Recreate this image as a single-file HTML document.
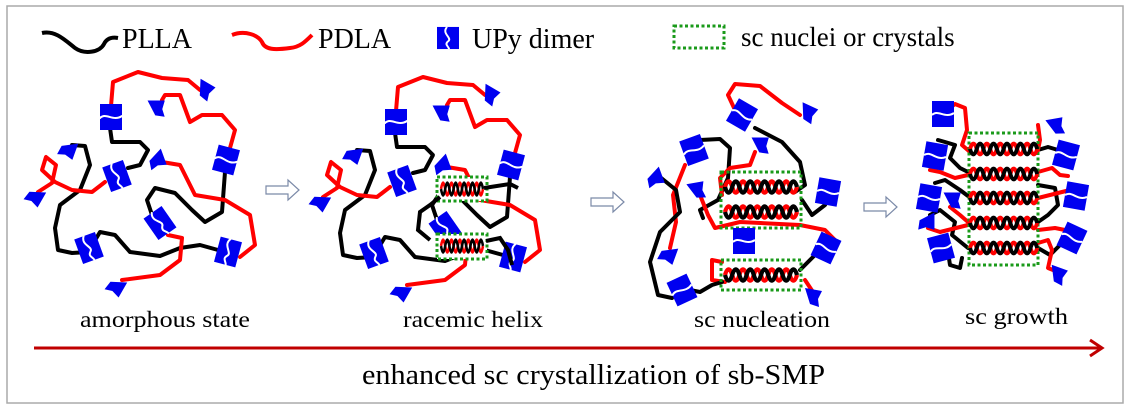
<!DOCTYPE html>
<html><head><meta charset="utf-8"><style>
html,body{margin:0;padding:0;background:#fff}
svg{display:block}
text{font-family:"Liberation Serif",serif;fill:#000}
</style></head><body>
<svg width="1129" height="410" viewBox="0 0 1129 410" xmlns="http://www.w3.org/2000/svg">
<defs>
<g id="upy"><rect x="-11" y="-13" width="22" height="26" fill="#0000f0"/><path d="M-1,-13 C-7,-5 5,0 0,4 C-4,8 1,10 1,13" stroke="#fff" stroke-width="2" fill="none"/></g>
<g id="upyh"><rect x="-11" y="-13" width="22" height="26" fill="#0000f0"/><path d="M-11,1 C-5,-5 2,5 11,-1" stroke="#fff" stroke-width="2" fill="none"/></g>
<path id="cap" d="M-8,-9 L9,-6 L5,2 L6,10 L-3,7 Z" fill="#0000f0"/>
<g id="hx" fill="none" stroke-width="3.6">
<path d="M0,0 Q3,-12 6,0 T12,0 T18,0 T24,0 T30,0 T36,0 T42,0 T48,0 T54,0 T60,0" stroke="#f00"/>
<path d="M0,0 Q3,12 6,0 T12,0 T18,0 T24,0 T30,0 T36,0 T42,0 T48,0 T54,0 T60,0" stroke="#000"/>
</g>
<g id="harrow"><path d="M0,-4 L22,-4 L22,-10 L33,0 L22,10 L22,4 L0,4 Z" fill="#fff" stroke="#7b8aa8" stroke-width="1.2"/></g>
<g id="p1" fill="none" stroke-width="4" stroke-linejoin="round" stroke-linecap="round">
<path d="M111,106 L113,82 L138,72 L162,78 L188,80 L200,90 L205,90" stroke="#f00"/>
<path d="M110,128 L112,142 L140,142 L148,150 L140,165 L128,168" stroke="#000"/>
<path d="M162,100 L165,95 L180,95 L190,122 L202,115 L222,115 L235,130 L230,148" stroke="#f00"/>
<path d="M225,172 L222,212 L205,222 L192,210 L175,193 L155,188 L147,200 L152,215 L162,222" stroke="#000"/>
<path d="M162,162 L180,165 L195,195 L225,200 L250,215 L255,245 L240,257" stroke="#f00"/>
<path d="M218,250 L200,245 L180,248 L160,256 L130,252 L115,235 L100,232 L88,252 L72,253 L58,250 L55,228 L60,205 L80,190 L90,165 L85,146 L72,145 L70,155" stroke="#000"/>
<path d="M38,192 L52,183 L56,165 L46,157 L42,170 L55,182 L72,190 L92,192 L105,182" stroke="#f00"/>
<path d="M168,235 L182,238 L180,260 L160,275 L122,280" stroke="#f00"/>
<use href="#upyh" transform="translate(111,117)"/>
<use href="#upy" transform="translate(117,176) rotate(-20)"/>
<use href="#upyh" transform="translate(226,160) rotate(15)"/>
<use href="#upy" transform="translate(160,223) rotate(-35)"/>
<use href="#upy" transform="translate(228,252) rotate(15)"/>
<use href="#upy" transform="translate(89,248) rotate(-20)"/>
<use href="#cap" transform="translate(205,90) rotate(20)"/>
<use href="#cap" transform="translate(157,108) rotate(-10)"/>
<use href="#cap" transform="translate(157,160) rotate(60)"/>
<use href="#cap" transform="translate(68,150) rotate(100)"/>
<use href="#cap" transform="translate(35,197) rotate(110)"/>
<use href="#cap" transform="translate(116,287) rotate(110)"/>
</g>
</defs>
<rect x="7" y="6" width="1116" height="397" fill="#fff" stroke="#aaa" stroke-width="1.5"/>
<!-- legend -->
<path d="M42,33 C55,30 65,40 75,48 C85,55 100,52 104,44 C107,38 112,37 118,38" fill="none" stroke="#000" stroke-width="4"/>
<text x="122" y="48" font-size="28">PLLA</text>
<path d="M232,35 C245,30 258,35 262,42 C265,50 275,50 290,48 C300,47 305,42 312,35" fill="none" stroke="#f00" stroke-width="4"/>
<text x="318" y="48" font-size="28">PDLA</text>
<use href="#upy" transform="translate(448,38) scale(1,0.85)"/>
<text x="472" y="48" font-size="28">UPy dimer</text>
<rect x="674" y="26" width="50" height="22" fill="none" stroke="#1a9a1a" stroke-width="3" stroke-dasharray="3,2.5"/>
<text x="741" y="46" font-size="27">sc nuclei or crystals</text>
<!-- panel 1 -->
<use href="#p1"/>
<use href="#harrow" transform="translate(266,190)"/>
<!-- panel 2 -->
<use href="#p1" transform="translate(285,5)"/>
<rect x="437" y="177" width="50" height="24" fill="#fff" stroke="#1a9a1a" stroke-width="3" stroke-dasharray="3,2.5"/>
<use href="#hx" transform="translate(441,189) scale(0.7,1)"/>
<rect x="437" y="234" width="50" height="25" fill="#fff" stroke="#1a9a1a" stroke-width="3" stroke-dasharray="3,2.5"/>
<use href="#hx" transform="translate(441,246) scale(0.7,1)"/>
<path d="M484,188 L510,184 L518,188" stroke="#000" stroke-width="4" fill="none"/>
<path d="M440,197 L430,205 L420,212 L418,230 L430,240" stroke="#000" stroke-width="4" fill="none"/>
<path d="M486,241 L500,238 L508,250 L512,265" stroke="#000" stroke-width="4" fill="none"/>
<use href="#harrow" transform="translate(591,202)"/>
<!-- panel 3 -->
<g fill="none" stroke-width="4" stroke-linejoin="round" stroke-linecap="round">
<path d="M735,110 L728,95 L735,84 L760,86 L782,103 L800,115" stroke="#f00"/>
<path d="M755,128 L782,142 L800,162 L805,185 L795,192" stroke="#000"/>
<path d="M700,140 L720,139 L730,148 L728,178 L718,200 L700,210 L703,218" stroke="#000"/>
<path d="M685,165 L673,195 L676,222 L670,248" stroke="#f00"/>
<path d="M660,177 L676,190 L680,212 L660,232 L650,262 L658,295 L672,298" stroke="#000"/>
<path d="M755,152 L750,165 L730,168 L720,178 L722,195" stroke="#f00"/>
<path d="M700,195 L708,215 L715,228 L740,222 L800,225 L825,230 L835,240" stroke="#f00"/>
<path d="M802,200 L812,215 L825,205" stroke="#000"/>
<path d="M805,280 L813,292" stroke="#f00"/>
<path d="M800,270 L815,255 L822,247" stroke="#000"/>
<path d="M722,262 L712,260 L712,280 L725,282" stroke="#f00"/>
<path d="M722,282 L712,285 L700,292 L690,290" stroke="#000"/>
</g>
<rect x="721" y="172" width="80" height="56" fill="none" stroke="#1a9a1a" stroke-width="3" stroke-dasharray="3,2.5"/>
<use href="#hx" transform="translate(725,187) scale(1.2,1)"/>
<use href="#hx" transform="translate(725,212) scale(1.2,1)"/>
<rect x="721" y="260" width="80" height="30" fill="none" stroke="#1a9a1a" stroke-width="3" stroke-dasharray="3,2.5"/>
<use href="#hx" transform="translate(725,275) scale(1.2,1)"/>
<use href="#upyh" transform="translate(742,115) rotate(30)"/>
<use href="#upyh" transform="translate(694,150) rotate(-20)"/>
<use href="#upyh" transform="translate(744,241)"/>
<use href="#upyh" transform="translate(828,192) rotate(10)"/>
<use href="#upyh" transform="translate(826,248) rotate(25)"/>
<use href="#upyh" transform="translate(682,290) rotate(-25)"/>
<use href="#cap" transform="translate(808,113) rotate(15)"/>
<use href="#cap" transform="translate(761,145) rotate(-10)"/>
<use href="#cap" transform="translate(655,178) rotate(60)"/>
<use href="#cap" transform="translate(697,190) rotate(-20)"/>
<use href="#cap" transform="translate(668,255) rotate(100)"/>
<use href="#cap" transform="translate(813,297) rotate(0)"/>
<use href="#harrow" transform="translate(864,207)"/>
<!-- panel 4 -->
<g fill="none" stroke-width="4" stroke-linejoin="round" stroke-linecap="round">
<path d="M950,108 L955,104 L965,108 L967,130 L962,145 L970,152" stroke="#f00"/>
<path d="M938,140 L945,142 L955,145 L950,158 L960,168 L968,172" stroke="#000"/>
<path d="M930,170 L940,172 L955,178 L968,175" stroke="#f00"/>
<path d="M935,183 L945,180 L960,190 L968,196" stroke="#000"/>
<path d="M950,207 L960,215 L968,222" stroke="#f00"/>
<path d="M930,215 L940,210 L955,222 L952,235 L968,248" stroke="#000"/>
<path d="M928,228 L940,232 L968,225" stroke="#f00"/>
<path d="M940,248 L948,252 L950,265 L960,268 L962,258" stroke="#000"/>
<path d="M1038,150 L1048,147 L1058,150" stroke="#000"/>
<path d="M1038,125 L1040,140 L1038,150" stroke="#f00"/>
<path d="M1038,172 L1052,168 L1060,175 L1068,176" stroke="#f00"/>
<path d="M1038,185 L1055,188 L1058,205 L1048,215 L1038,222" stroke="#000"/>
<path d="M1038,198 L1050,195 L1070,190" stroke="#f00"/>
<path d="M1038,230 L1055,228 L1065,230" stroke="#f00"/>
<path d="M1038,248 L1050,255 L1060,245" stroke="#000"/>
<path d="M1038,243 L1048,240 L1052,250 L1048,268 L1058,272" stroke="#f00"/>
</g>
<rect x="969" y="133" width="69" height="132" fill="none" stroke="#1a9a1a" stroke-width="3" stroke-dasharray="3,2.5"/>
<use href="#hx" transform="translate(970,149) scale(1.12,0.95)"/>
<use href="#hx" transform="translate(970,174) scale(1.12,0.95)"/>
<use href="#hx" transform="translate(970,198) scale(1.12,0.95)"/>
<use href="#hx" transform="translate(970,223) scale(1.12,0.95)"/>
<use href="#hx" transform="translate(970,248) scale(1.12,0.95)"/>
<use href="#upyh" transform="translate(943,114)"/>
<use href="#upyh" transform="translate(935,156) rotate(10)"/>
<use href="#upyh" transform="translate(929,198) rotate(10)"/>
<use href="#upyh" transform="translate(941,248) rotate(-15)"/>
<use href="#upyh" transform="translate(1066,155) rotate(15)"/>
<use href="#upyh" transform="translate(1076,196) rotate(10)"/>
<use href="#upyh" transform="translate(1072,238) rotate(25)"/>
<use href="#cap" transform="translate(1056,126) rotate(-20)"/>
<use href="#cap" transform="translate(953,200) rotate(-10)"/>
<use href="#cap" transform="translate(927,222) rotate(80)"/>
<use href="#cap" transform="translate(1058,275) rotate(10)"/>
<!-- labels -->
<text x="80" y="327" font-size="23" textLength="170" lengthAdjust="spacingAndGlyphs">amorphous state</text>
<text x="403" y="327" font-size="23" textLength="140" lengthAdjust="spacingAndGlyphs">racemic helix</text>
<text x="694" y="327" font-size="23" textLength="136" lengthAdjust="spacingAndGlyphs">sc nucleation</text>
<text x="965" y="324" font-size="23" textLength="103" lengthAdjust="spacingAndGlyphs">sc growth</text>
<line x1="34" y1="348" x2="1100" y2="348" stroke="#c00000" stroke-width="3"/>
<path d="M1090,340 L1102,348 L1090,356" fill="none" stroke="#c00000" stroke-width="3"/>
<text x="362" y="384" font-size="29" textLength="463" lengthAdjust="spacingAndGlyphs">enhanced sc crystallization  of sb-SMP</text>
</svg>
</body></html>
